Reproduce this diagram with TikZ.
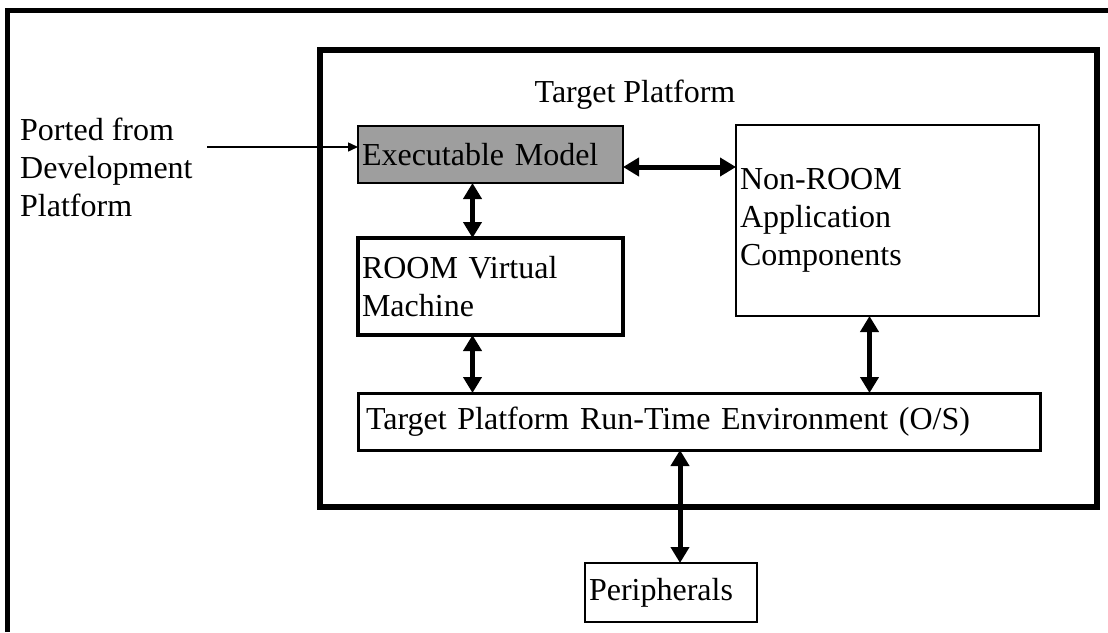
\documentclass[tikz,border=0pt]{standalone}
\usepackage{fontspec}
\setmainfont{Liberation Serif}
\usetikzlibrary{positioning,arrows.meta}
\definecolor{modelgray}{gray}{0.62}
\begin{document}
\begin{tikzpicture}[x=1pt,y=-1pt,font=\fontsize{32}{38}\selectfont]
\tikzstyle{box} = [rectangle, draw=black, outer sep=0pt, inner xsep=4pt, inner ysep=0pt, align=left]
\tikzstyle{biarrow} = [line width=5pt, {Triangle[length=16pt,width=18pt]}-{Triangle[length=16pt,width=18pt]}]
\tikzstyle{arrow} = [line width=1.5pt, -{Triangle[length=10pt,width=9pt]}]

\useasboundingbox (0,0) rectangle (1108,632);
\draw [line width=5pt] (7,632) -- (7,10) -- (1108,10);

\node (target) [rectangle, draw=black, line width=6pt, minimum width=777pt, minimum height=457pt, outer sep=0pt] at (708.5,278.5) {};
\node (title) [anchor=base] at ([xshift=-73.5pt,yshift=-52pt]target.north) {Target Platform};

\node (exec) [box, line width=2pt, fill=modelgray, text width=257pt, minimum height=57pt] at (490.5,154.5) {Executable Model};
\node (vm) [box, line width=4.5pt, text width=257pt, minimum height=97pt, below=55pt of exec] {ROOM Virtual\\Machine};
\node (nonroom) [box, line width=2pt, text width=295pt, minimum height=191pt, right=113pt of exec.north east, anchor=north west, yshift=1pt] {Non-ROOM\\Application\\Components};
\node (runtime) [box, line width=3pt, inner xsep=8pt, text width=666pt, minimum height=57pt, below=58pt of vm.south west, anchor=north west] {Target Platform Run-Time Environment (O/S)};
\node (periph) [box, line width=2pt, text width=164pt, minimum height=59pt, below=113pt of runtime, xshift=-28pt] {Peripherals};

\node (ported) [align=left, anchor=base west, inner sep=0pt] at (20,216) {Ported from\\Development\\Platform};
\coordinate (portstart) at (207,147);

% connector end points
\coordinate (execdown) at ([xshift=-18pt]exec.south);
\coordinate (execright) at ([yshift=-12.5pt]exec.east);
\coordinate (vmdown) at ([xshift=-18pt]vm.south);
\coordinate (nrdown) at ([xshift=-18pt]nonroom.south);
\coordinate (periphup) at ([xshift=9pt]periph.north);

\draw [arrow] (portstart) -- (portstart -| exec.west);
\draw [biarrow] (execdown) -- (execdown |- vm.north);
\draw [biarrow] (execright) -- (execright -| nonroom.west);
\draw [biarrow] (vmdown) -- (vmdown |- runtime.north);
\draw [biarrow] (nrdown) -- (nrdown |- runtime.north);
\draw [biarrow] (periphup |- runtime.south) -- (periphup);

\end{tikzpicture}
\end{document}
